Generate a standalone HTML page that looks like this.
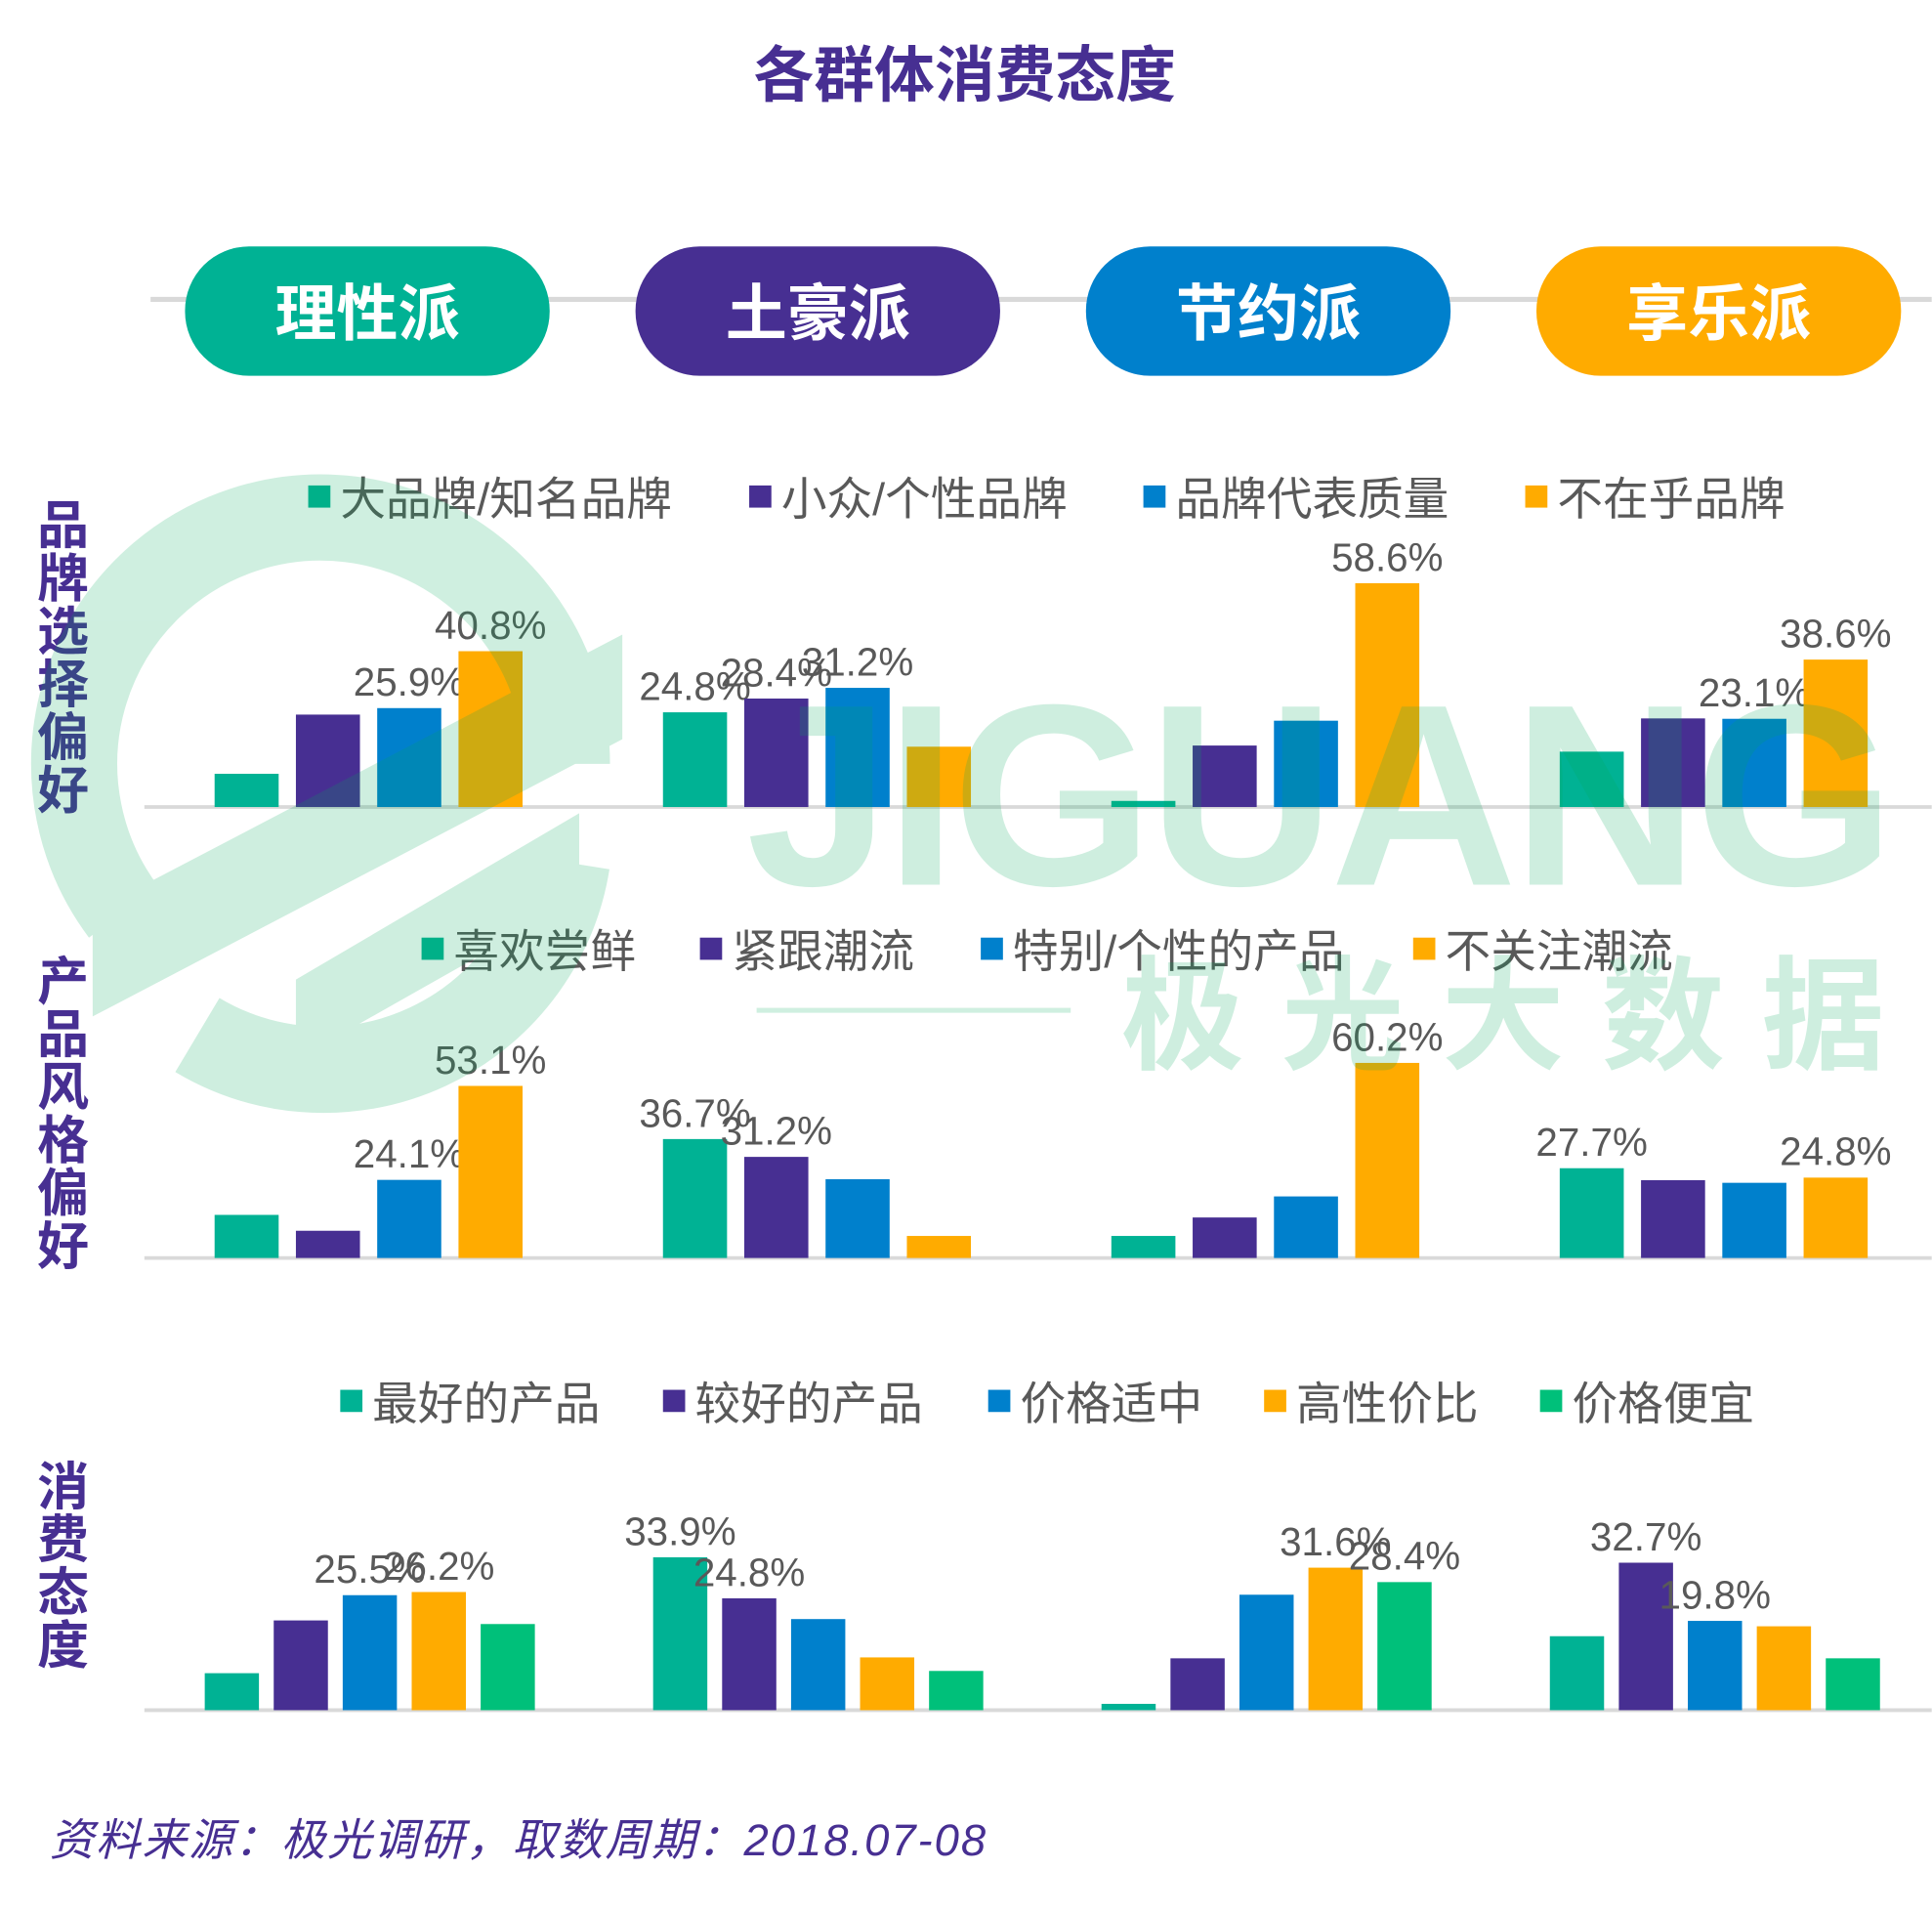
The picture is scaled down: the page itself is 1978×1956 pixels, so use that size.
<!DOCTYPE html>
<html><head><meta charset="utf-8"><style>
html,body{margin:0;padding:0;background:#fff}
svg{display:block}
text{font-family:"Liberation Sans","Noto Sans CJK SC",sans-serif}
</style></head><body>
<svg id="c" width="1978" height="1956" viewBox="0 0 1568 1551" xmlns="http://www.w3.org/2000/svg">
<text x="783" y="78" text-anchor="middle" font-size="49" font-weight="bold" fill="#472f92">各群体消费态度</text>
<line x1="122" y1="243" x2="1568" y2="243" stroke="#d9d9d9" stroke-width="4"/>
<g id="pills"></g>
<g id="axes"></g>
<g id="bars"></g>
<g id="wm" opacity="0.19" fill="#00a85a">
<path d="M 100 740 A 200 200 0 1 1 460 620" fill="none" stroke="#00a85a" stroke-width="70"/>
<path d="M 460 700 A 200 200 0 0 1 160 840" fill="none" stroke="#00a85a" stroke-width="70"/>
<polygon points="75,740 505,515 505,600 75,825"/>
<polygon points="240,795 470,660 470,730 240,860"/>
<text x="1070" y="718" text-anchor="middle" font-size="210" font-weight="bold" letter-spacing="-4">JIGUANG</text>
<text x="1235" y="860" text-anchor="middle" font-size="100" font-weight="bold" letter-spacing="30">极光大数据</text>
<rect x="614" y="818" width="255" height="4"/>
</g>
<text x="40" y="1506" font-size="36" font-style="italic" fill="#472f92" textLength="760">资料来源：极光调研，取数周期：2018.07-08</text>
</svg>
<script>
const groups = ['理性派','土豪派','节约派','享乐派'];
const groupColors = ['#00b294','#472f92','#0080cc','#ffab00'];
const seriesColors = ['#00b294','#472f92','#0080cc','#ffab00','#00c07a'];
const c1Legend = ['大品牌/知名品牌','小众/个性品牌','品牌代表质量','不在乎品牌'];
const c1Values = [[8.7,24.2,25.9,40.8],[24.8,28.4,31.2,15.8],[1.6,16.1,22.6,58.6],[14.5,23.2,23.1,38.6]];
const c1Labels = [[null,null,'25.9%','40.8%'],['24.8%','28.4%','31.2%',null],[null,null,null,'58.6%'],[null,null,'23.1%','38.6%']];
const c2Legend = ['喜欢尝鲜','紧跟潮流','特别/个性的产品','不关注潮流'];
const c2Values = [[13.3,8.4,24.1,53.1],[36.7,31.2,24.3,6.8],[6.8,12.5,19.0,60.2],[27.7,24.0,23.2,24.8]];
const c2Labels = [[null,null,'24.1%','53.1%'],['36.7%','31.2%',null,null],[null,null,null,'60.2%'],['27.7%',null,null,'24.8%']];
const c3Legend = ['最好的产品','较好的产品','价格适中','高性价比','价格便宜'];
const c3Values = [[8.2,19.9,25.5,26.2,19.1],[33.9,24.8,20.2,11.7,8.7],[1.4,11.5,25.6,31.6,28.4],[16.4,32.7,19.8,18.6,11.5]];
const c3Labels = [[null,null,'25.5%','26.2%',null],['33.9%','24.8%',null,null,null],[null,null,null,'31.6%','28.4%'],[null,'32.7%','19.8%',null,null]];
const axisTitles = ['品牌选择偏好','产品风格偏好','消费态度'];

const NS='http://www.w3.org/2000/svg';
function mk(tag,attrs,parent,txt){const e=document.createElementNS(NS,tag);for(const k in attrs)e.setAttribute(k,attrs[k]);if(txt!=null)e.textContent=txt;parent.appendChild(e);return e;}
const pills=document.getElementById('pills'), axes=document.getElementById('axes'), bars=document.getElementById('bars');
const groupX = i => 174 + i*364;

groups.forEach((g,i)=>{
  const cx=298+i*365.7;
  const r=mk('rect',{x:cx-148,y:200,width:296,height:105,rx:52,fill:groupColors[i]},pills);
  
  
  const t=mk('text',{x:cx,y:272,'text-anchor':'middle','font-size':50,'font-weight':'bold',fill:'#fff'},pills,g);
  
  
});

const charts=[
 {legend:c1Legend,values:c1Values,labels:c1Labels,base:655,scale:3.1,bw:52,pitch:66,x0:0,legY:404,legX:[250,608,928,1238],titleY:405},
 {legend:c2Legend,values:c2Values,labels:c2Labels,base:1021,scale:2.63,bw:52,pitch:66,x0:0,legY:771,legX:[342,568,796,1147],titleY:775},
 {legend:c3Legend,values:c3Values,labels:c3Labels,base:1388,scale:3.66,bw:44,pitch:56,x0:-8,legY:1138,legX:[276,538,802,1026,1250],titleY:1185}
];
charts.forEach((ch,ci)=>{
  const bl=mk('line',{x1:117,y1:ch.base,x2:1568,y2:ch.base,stroke:'#d9d9d9','stroke-width':3},axes);
  
  
  const tt=mk('text',{x:51,y:0,'font-size':42,'font-weight':'bold',fill:'#472f92','text-anchor':'middle'},axes);
  
  
  [...axisTitles[ci]].forEach((chr,k)=>{mk('tspan',{x:51,y:ch.titleY+36+k*43},tt,chr);});
  ch.legend.forEach((l,k)=>{
    const sq=mk('rect',{x:ch.legX[k],y:ch.legY-10,width:18,height:18,fill:seriesColors[k]},axes);
    
    
    const lt=mk('text',{x:ch.legX[k]+26,y:ch.legY+14,'font-size':37,fill:'#595959'},axes,l);
    
    
  });
  ch.values.forEach((vals,gi)=>{
    vals.forEach((v,si)=>{
      const x=groupX(gi)+ch.x0+si*ch.pitch, h=v*ch.scale;
      const b=mk('rect',{x:x,y:ch.base-h,width:ch.bw,height:h,fill:seriesColors[si]},bars);
      
      
      const lab=ch.labels[gi][si];
      if(lab){
        const lt=mk('text',{x:x+ch.bw/2,y:ch.base-h-10,'text-anchor':'middle','font-size':32,fill:'#595959'},bars,lab);
        
        
      }
    });
  });
});
</script>
</body></html>
